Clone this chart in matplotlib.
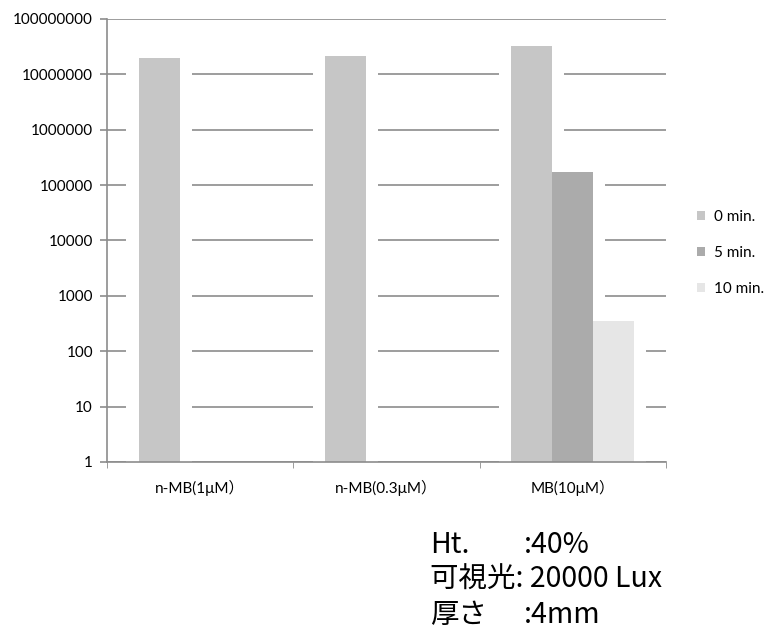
import numpy as np
import matplotlib.pyplot as plt
from matplotlib.patches import Patch

categories = ['n-MB(1μM）', 'n-MB(0.3μM）', 'MB(10μM）']
series = ['0 min.', '5 min.', '10 min.']
values = {
    '0 min.': [2.0e7, 2.1e7, 3.2e7],
    '5 min.': [1, 1, 1.7e5],
    '10 min.': [1, 1, 350],
}
colors = ['#c6c6c6', '#ababab', '#e6e6e6']
yticks = [1, 10, 100, 1000, 10000, 100000, 1000000, 10000000, 100000000]

fig = plt.figure(figsize=(7.69, 6.32), dpi=100)
ax = fig.add_axes([0.139, 0.269, 0.727, 0.701])

x = np.arange(len(categories))
w = 0.22
gap = 0.065  # white margin the bars cut out of the grid

for i, s in enumerate(series):
    pos = x + (i - 1) * w
    heights = np.array(values[s]) - 1  # bars start at 1 on the log axis
    ax.bar(pos, heights, width=w + 2 * gap, bottom=1, color='white', zorder=1.5)
    ax.bar(pos, heights, width=w, bottom=1, color=colors[i], zorder=2, label=s)

ax.set_yscale('log')
ax.set_ylim(1, 1e8)
ax.set_xlim(-0.5, 2.5)
ax.set_yticks(yticks)
ax.set_yticklabels([str(v) for v in yticks])
ax.yaxis.set_minor_locator(plt.NullLocator())
ax.grid(axis='y', color='#8c8c8c', linewidth=1.2, zorder=1)
ax.set_axisbelow(True)

ax.set_xticks(x)
ax.set_xticklabels(categories)
ax.set_xticks([-0.5, 0.5, 1.5, 2.5], minor=True)
ax.tick_params(axis='x', which='major', length=0, pad=13)
ax.tick_params(axis='x', which='minor', length=4, color='#8c8c8c', direction='out')
ax.tick_params(axis='y', length=5, color='#8c8c8c', width=1.2, pad=5)

for sp in ['top', 'right']:
    ax.spines[sp].set_visible(False)
for sp in ['left', 'bottom']:
    ax.spines[sp].set_color('#8c8c8c')
    ax.spines[sp].set_linewidth(1.2)

tick_font = ['Lato', 'Noto Sans CJK JP', 'DejaVu Sans']
for lab in ax.get_xticklabels() + ax.get_yticklabels():
    lab.set_family(tick_font)
    lab.set_fontsize(11)

handles = [Patch(facecolor=c, edgecolor='none') for c in colors]
fig.legend(handles, series, loc='center left', bbox_to_anchor=(0.888, 0.6),
           frameon=False, handlelength=0.55, handleheight=0.55, handletextpad=0.6,
           labelspacing=1.45, prop={'family': tick_font, 'size': 11})

note_font = ['Noto Sans CJK JP', 'DejaVu Sans']
rows = [('Ht.', ':40%', 545), ('可視光: 20000 Lux', '', 580), ('厚さ', ':4mm', 615)]
for lab, val, yy in rows:
    fy = 1 - yy / 632
    fig.text(430 / 769, fy, lab, fontsize=20.5, family=note_font, va='center')
    if val:
        fig.text(524 / 769, fy, val, fontsize=20.5, family=note_font, va='center')

fig.savefig('out.png', dpi=100)
